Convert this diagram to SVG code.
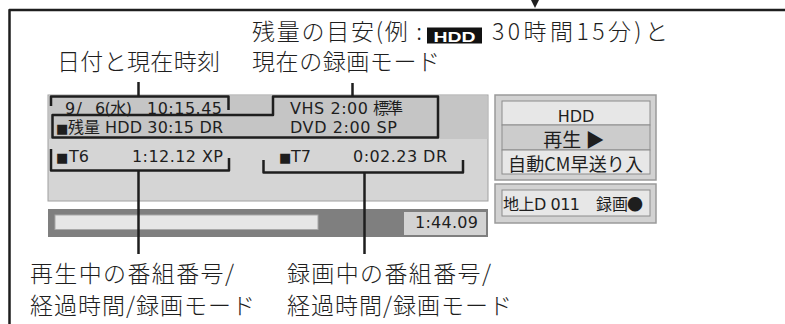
<svg xmlns="http://www.w3.org/2000/svg" width="785" height="324" viewBox="0 0 785 324">
<style>
.lbl{font-family:"Noto Sans CJK JP","Noto Sans",sans-serif;font-size:23px;font-weight:300;fill:#1e1e1e}
.sm{font-family:"DejaVu Sans","Noto Sans CJK JP",sans-serif;font-size:16px;fill:#1e1e1e}
.jp{font-family:"Noto Sans CJK JP",sans-serif;fill:#1e1e1e}
.sq{font-family:"DejaVu Sans",sans-serif;font-size:13px;fill:#1e1e1e}
.br{fill:none;stroke:#1e1e1e;stroke-width:2.5;stroke-linejoin:round}
.ib{stroke:#8c8c8c;stroke-width:1}
.ob{fill:#d2d2d2;stroke:#9a9a9a;stroke-width:1.5}
</style>
<rect width="785" height="324" fill="#ffffff"/>

<g id="frame">
<path class="br" d="M9.5,324 V10 H785"/>
<polygon points="531,0 539,0 535,8" fill="#1e1e1e"/>
</g>

<g id="label-remaining">
<text class="lbl" x="252" y="40" textLength="170">残量の目安(例 :</text>
<rect x="427" y="27.5" width="55" height="16" fill="#111"/>
<text x="433.5" y="41.5" font-family="Liberation Sans,Arial,sans-serif" font-weight="bold" font-size="15.5" fill="#fff" textLength="42" lengthAdjust="spacingAndGlyphs">HDD</text>
<text class="lbl" x="492" y="40" textLength="176">30時間15分)と</text>
<text class="lbl" x="252" y="69.5" textLength="188">現在の録画モード</text>
</g>

<g id="label-date">
<text class="lbl" x="57" y="69.5" textLength="163">日付と現在時刻</text>
</g>

<g id="label-play">
<text class="lbl" x="30" y="281.5" textLength="204">再生中の番組番号/</text>
<text class="lbl" x="30" y="313.5" textLength="225">経過時間/録画モード</text>
</g>

<g id="label-rec">
<text class="lbl" x="287" y="281.5" textLength="204">録画中の番組番号/</text>
<text class="lbl" x="287" y="313.5" textLength="225">経過時間/録画モード</text>
</g>

<g id="screen">
<rect x="48" y="95" width="440" height="106" fill="#d5d5d5" stroke="#a0a0a0" stroke-width="1"/>
<rect x="48.5" y="95.5" width="439" height="43.5" fill="#c5c5c5"/>
<text class="sm" x="65" y="113.5" textLength="17">9/</text>
<text class="sm" x="95" y="113.5" textLength="37">6(水)</text>
<text class="sm" x="147" y="113.5" textLength="75">10:15.45</text>
<text class="sq" x="56" y="133">■</text>
<text class="sm" x="68" y="133" textLength="32">残量</text>
<text class="sm" x="105" y="133" textLength="118">HDD 30:15 DR</text>
<text class="sm" x="290" y="113.5" textLength="78">VHS 2:00</text>
<text class="sm" x="373" y="113.5" textLength="30">標準</text>
<text class="sm" x="290" y="132.5" textLength="107">DVD 2:00 SP</text>
<text class="sq" x="56" y="162">■</text>
<text class="sm" x="69" y="162">T6</text>
<text class="sm" x="132" y="162" textLength="91">1:12.12 XP</text>
<text class="sq" x="279" y="162">■</text>
<text class="sm" x="291" y="162">T7</text>
<text class="sm" x="353" y="162" textLength="94">0:02.23 DR</text>
</g>

<g id="progress">
<rect x="48" y="209" width="440" height="28" fill="#7f7f7f"/>
<rect x="55" y="215" width="263" height="14.5" fill="#e6e6e6" stroke="#a8a8a8" stroke-width="1"/>
<rect x="404" y="212" width="82" height="23" fill="#d3d3d3"/>
<text class="sm" x="415" y="227.5" textLength="63">1:44.09</text>
</g>

<g id="status-box">
<rect class="ob" x="495" y="95" width="161" height="85"/>
<rect class="ib" x="502" y="101" width="148" height="24" fill="#e7e7e7"/>
<rect class="ib" x="502" y="125" width="148" height="25" fill="#cccccc"/>
<rect class="ib" x="502" y="150" width="148" height="24" fill="#e7e7e7"/>
<text class="sm" x="576" y="122" font-size="20" text-anchor="middle">HDD</text>
<text class="jp" x="574" y="146.5" font-size="19" text-anchor="middle">再生 ▶</text>
<text class="jp" x="508" y="171" font-size="18" textLength="135">自動CM早送り入</text>
</g>

<g id="channel-box">
<rect class="ob" x="495" y="184" width="161" height="39"/>
<rect class="ib" x="502" y="190" width="148" height="26" fill="#e7e7e7"/>
<text class="sm" x="503" y="210" font-size="17" textLength="77">地上D 011</text>
<text class="jp" x="596" y="210" font-size="16">録画</text>
<text class="jp" x="627" y="210" font-size="16">●</text>
</g>

<g id="connectors">
<path class="br" d="M138.5,82 V96.5"/>
<path class="br" d="M51,106 V96.5 H228.5 V110"/>
<path class="br" d="M352.5,83 V96.5"/>
<path class="br" d="M52.5,115 H273 V96.5 H438 V137.5 H52.5 Z"/>
<path class="br" d="M51,149 V170.5 H229 V158"/>
<path class="br" d="M138.5,170.5 V254"/>
<path class="br" d="M263.5,160 V172.5 H463 V160"/>
<path class="br" d="M364.5,172.5 V254"/>
</g>
</svg>
